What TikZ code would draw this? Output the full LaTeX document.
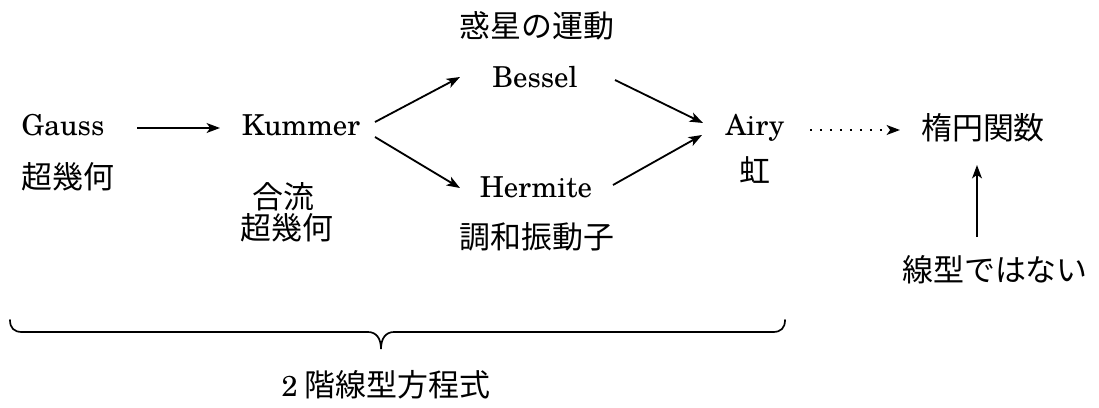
\documentclass[tikz,border=0pt]{standalone}
\usepackage{fontspec}
\newfontfamily\cjk{Noto Sans CJK JP}
\newfontfamily\schola{TeX Gyre Schola}
\usetikzlibrary{arrows.meta,calc}
\begin{document}
\begin{tikzpicture}[x=0.025cm,y=-0.025cm,
  lat/.style={inner sep=0pt,anchor=base,font=\fontsize{20.5}{25}\selectfont\schola},
  ja/.style={inner sep=0pt,anchor=center,font=\fontsize{22}{26}\selectfont\cjk},
  arr/.style={line width=1.3pt,-{Stealth[length=9.5pt,width=7pt,inset=2.5pt]}},
  dotarr/.style={line width=1.3pt,dash pattern=on 1.3pt off 5.8pt,-{Stealth[length=9.5pt,width=7pt,inset=2.5pt]}},
  bracestyle/.style={line width=1.2pt,line cap=round}]
\useasboundingbox (0,0) rectangle (1099,408);
% nodes
\node[ja]  (wakusei) at (537,26)  {惑星の運動};
\node[lat] (bessel)  at (535,87)  {Bessel};
\node[lat] (gauss)   at (63,135)  {Gauss};
\node[ja]  (chouA)   at (68,177)  {超幾何};
\node[lat] (kummer)  at (301,135) {Kummer};
\node[ja]  (gouryu)  at (283,197) {合流};
\node[ja]  (chouB)   at (287,228) {超幾何};
\node[lat] (hermite) at (536,197) {Hermite};
\node[ja]  (chouwa)  at (537,237) {調和振動子};
\node[lat] (airy)    at (755,135) {Airy};
\node[ja]  (niji)    at (755,170) {虹};
\node[ja]  (daen)    at (983,128) {楕円関数};
\node[ja]  (senkei)  at (995,270) {線型ではない};
\node[ja]  (eq)      at (386,385) {{\fontsize{20.5}{25}\selectfont\schola 2} 階線型方程式};
% connectors
\draw[arr] ($(gauss.base)+(74,-7)$) -- ($(kummer.base)+(-81,-7)$);
\draw[arr] ($(kummer.base)+(74,-13)$) -- ($(bessel.base)+(-75,-10)$);
\draw[arr] ($(kummer.base)+(74,2)$) -- ($(hermite.base)+(-76,-9)$);
\draw[arr] ($(bessel.base)+(80,-7)$) -- ($(airy.base)+(-52,-12)$);
\draw[arr] ($(hermite.base)+(77,-12)$) -- ($(airy.base)+(-53,0)$);
\draw[dotarr] ($(airy.base)+(55,-5)$) -- ($(daen.center)+(-83,2)$);
\draw[arr] ($(senkei.center)+(-18,-33)$) -- ($(daen.center)+(-6,37)$);
% brace
\draw[bracestyle] (10,320) .. controls (10,328) and (14,332) .. (22,332)
  -- (368,332) .. controls (376,332) and (381,338) .. (381,349)
  .. controls (381,338) and (386,332) .. (394,332)
  -- (773,332) .. controls (781,332) and (785,328) .. (785,320);
\end{tikzpicture}
\end{document}
